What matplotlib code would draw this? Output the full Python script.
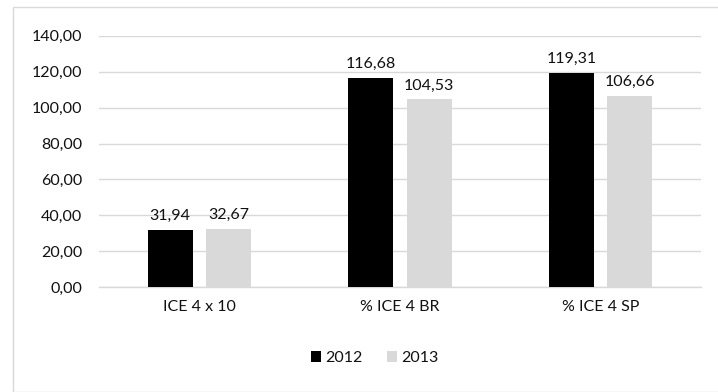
import matplotlib
matplotlib.use("Agg")
import matplotlib.pyplot as plt
from matplotlib.patches import Rectangle, Patch
import numpy as np

categories = ["ICE 4 x 10", "% ICE 4 BR", "% ICE 4 SP"]
series_names = ["2012", "2013"]
values_2012 = [31.94, 116.68, 119.31]
values_2013 = [32.67, 104.53, 106.66]
colors = ["#000000", "#d9d9d9"]

plt.rcParams['font.family'] = ['Lato', 'DejaVu Sans']
text_color = "#111111"
fs = 11.5

fig = plt.figure(figsize=(7.18, 3.92), dpi=100)
fig.patches.append(Rectangle((12.5/718, 0), 1, 1 - 6.5/392, transform=fig.transFigure,
                             fill=False, edgecolor="#d9d9d9", linewidth=1.0))
ax = fig.add_axes([99/718, 1 - 287.3/392, (701-99)/718, (287.3-35.7)/392])

x = np.arange(len(categories))
w = 0.224
off = 0.145
def fmt(v):
    return f"{v:.2f}".replace(".", ",")

for vals, o, c, name in [(values_2012, -off, colors[0], series_names[0]),
                         (values_2013, off, colors[1], series_names[1])]:
    bars = ax.bar(x + o, vals, width=w, color=c, zorder=3, label=name)
    for b, v in zip(bars, vals):
        ax.annotate(fmt(v), (b.get_x() + b.get_width()/2, v), xytext=(0, 5),
                    textcoords="offset points", ha="center", va="bottom",
                    fontsize=fs, color=text_color)

ax.set_xlim(-0.5, 2.5)
ax.set_ylim(0, 140)
ax.set_yticks(np.arange(0, 141, 20))
ax.set_yticklabels([fmt(v) for v in np.arange(0, 141, 20)])
ax.set_xticks(x)
ax.set_xticklabels(categories)
ax.tick_params(axis="both", length=0, labelsize=fs, colors=text_color)
ax.tick_params(axis="y", pad=12)
ax.tick_params(axis="x", pad=9)
ax.grid(axis="y", color="#d9d9d9", linewidth=1.0, zorder=0)
for s in ["top", "right", "left"]:
    ax.spines[s].set_visible(False)
ax.spines["bottom"].set_color("#d9d9d9")
ax.spines["bottom"].set_linewidth(1.0)

handles = [Patch(facecolor=colors[0]), Patch(facecolor=colors[1])]
fig.legend(handles, series_names, loc="center", bbox_to_anchor=(374.5/718, 1 - 358/392),
           ncol=2, frameon=False, fontsize=fs, handlelength=0.65, handleheight=0.65,
           handletextpad=0.25, columnspacing=1.5, labelcolor=text_color)

fig.savefig("out.png", dpi=100)
